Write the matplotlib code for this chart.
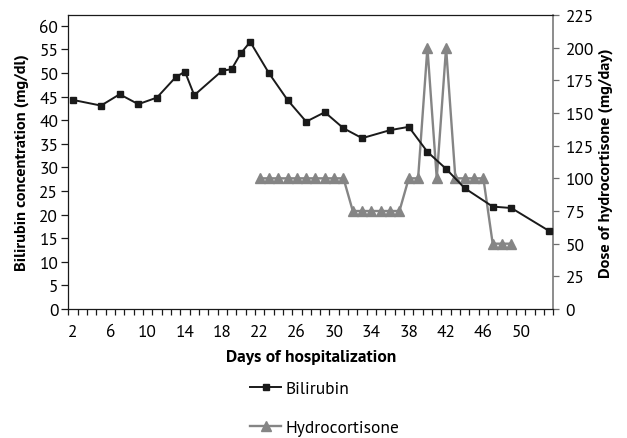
import matplotlib
matplotlib.use('Agg')
import matplotlib.pyplot as plt
from matplotlib.lines import Line2D

plt.rcParams['font.family'] = ['PT Sans', 'Fira Sans', 'DejaVu Sans']

# bilirubin measurements (day, mg/dl)
bili_days = [2, 5, 7, 9, 11, 13, 14, 15, 18, 19, 20, 21, 23, 25, 27, 29,
             31, 33, 36, 38, 40, 42, 44, 47, 49, 53]
bili_vals = [44.3, 43.1, 45.5, 43.4, 44.8, 49.1, 50.3, 45.3, 50.5, 50.8,
             54.2, 56.6, 50.0, 44.3, 39.7, 41.7, 38.3, 36.2, 37.9, 38.6,
             33.3, 29.7, 25.6, 21.7, 21.4, 16.6]

# hydrocortisone dose (day, mg/day)
hc_days = [22, 23, 24, 25, 26, 27, 28, 29, 30, 31, 32, 33, 34, 35,
           36, 37, 38, 39, 40, 41, 42, 43, 44, 45, 46, 47, 48, 49]
hc_dose = [100, 100, 100, 100, 100, 100, 100, 100, 100, 100,
           75, 75, 75, 75, 75, 75,
           100, 100, 200, 100, 200, 100, 100, 100, 100,
           50, 50, 50]

x_labels = [2, 6, 10, 14, 18, 22, 26, 30, 34, 38, 42, 46, 50]
left_ticks = [0, 5, 10, 15, 20, 25, 30, 35, 40, 45, 50, 55, 60]
right_ticks = [0, 25, 50, 75, 100, 125, 150, 175, 200, 225]

BLK = '#1a1a1a'
GRY = '#858585'
FS = 12.5

fig = plt.figure(figsize=(6.27, 4.39), dpi=100)
ax = fig.add_axes([0.109, 0.2938, 0.7735, 0.6698])
ax2 = ax.twinx()
ax.set_zorder(ax2.get_zorder() + 1)
ax.patch.set_visible(False)

ax2.plot(hc_days, hc_dose, color=GRY, lw=1.7, marker='^', ms=7,
         mec=GRY, mfc=GRY)
ax.plot(bili_days, bili_vals, color=BLK, lw=1.4, marker='s', ms=4.5,
        mec=BLK, mfc=BLK)

ax.set_xlim(1.5, 53.5)
ax.set_ylim(0, 62.3)
ax2.set_ylim(0, 225)

ax.set_xticks(x_labels)
ax.set_xticks([d + 0.5 for d in range(1, 54)], minor=True)
ax.set_yticks(left_ticks)
ax2.set_yticks(right_ticks)

ax.tick_params(axis='x', which='major', length=0, pad=11, labelsize=FS)
ax.tick_params(axis='x', which='minor', length=4.5, width=0.9,
               direction='out', color=BLK)
ax.tick_params(axis='y', length=4.7, width=0.9, pad=2.5, labelsize=FS,
               color=BLK)
ax2.tick_params(axis='y', length=4.3, width=0.9, pad=4.5, labelsize=FS,
                color='#6e6e6e')

for s in ['left', 'bottom', 'top']:
    ax.spines[s].set_color(BLK)
    ax.spines[s].set_linewidth(0.9)
ax.spines['right'].set_visible(False)
for s in ['left', 'bottom', 'top']:
    ax2.spines[s].set_visible(False)
ax2.spines['right'].set_color('#6e6e6e')
ax2.spines['right'].set_linewidth(1.1)

ax.set_ylabel('Bilirubin concentration (mg/dl)', fontsize=11.8,
              fontweight='bold')
ax.yaxis.set_label_coords(-0.096, 0.5)
ax.yaxis.label.set_va('center')
ax2.set_ylabel('Dose of hydrocortisone (mg/day)', fontsize=11.8,
               fontweight='bold', rotation=90)
ax2.yaxis.set_label_coords(1.1076, 0.5)
ax2.yaxis.label.set_va('center')
ax.set_xlabel('Days of hospitalization', fontsize=FS, fontweight='bold')
ax.xaxis.set_label_coords(0.5, -0.16)
ax.xaxis.label.set_va('center')

handles = [
    Line2D([], [], color=BLK, lw=1.4, marker='s', ms=4.5),
    Line2D([], [], color=GRY, lw=1.7, marker='^', ms=7),
]
fig.legend(handles, ['Bilirubin', 'Hydrocortisone'], loc='upper left',
           bbox_to_anchor=(250 / 627, 1 - 382 / 439), frameon=False,
           fontsize=FS, handlelength=1.8, handletextpad=0.25,
           labelspacing=1.3, borderpad=0, borderaxespad=0)

fig.savefig('out.png', dpi=100)
